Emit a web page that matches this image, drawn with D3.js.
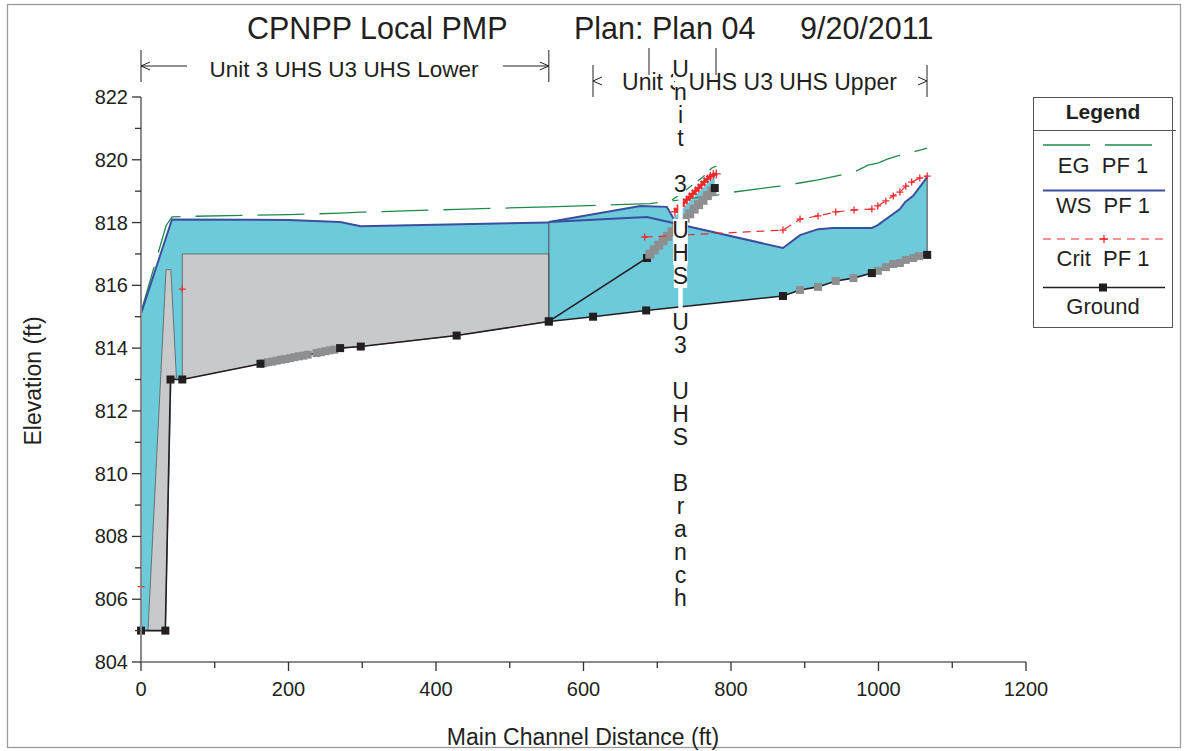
<!DOCTYPE html>
<html><head><meta charset="utf-8">
<script src="https://cdn.jsdelivr.net/npm/d3@7"></script>
<style>
body{margin:0;background:#fff}
svg{display:block}
text{font-family:"Liberation Sans",Arial,sans-serif;fill:#231f20}
</style>
</head><body>
<svg id="c" width="1186" height="751"></svg>
<script>
// ---------------- data ----------------
const titleParts = ["CPNPP Local PMP", "Plan: Plan 04", "9/20/2011"];
const xLabel = "Main Channel Distance (ft)";
const yLabel = "Elevation (ft)";
const xTicks = [0, 200, 400, 600, 800, 1000, 1200];
const xMinor = [100, 300, 500, 700, 900, 1100];
const yTicks = [804, 806, 808, 810, 812, 814, 816, 818, 820, 822];
const yMinor = [805, 807, 809, 811, 813, 815, 817, 819, 821];
const reachLower = "Unit 3 UHS U3 UHS Lower";
const reachUpper = "Unit 3 UHS U3 UHS Upper";
const reachBranch = "Unit 3 UHS U3 UHS Branch";
const legendNames = ["EG  PF 1", "WS  PF 1", "Crit  PF 1", "Ground"];

// Lower reach
const lowerGroundX = [0, 33, 40, 56, 162, 270, 298, 428, 553];
const lowerGroundY = [805.0, 805.0, 813.0, 813.0, 813.5, 814.0, 814.05, 814.4, 814.85];
const lowerInterpX = [166, 172, 178, 184, 190, 196, 202, 208, 214, 220, 226, 238, 244, 250, 256, 262];
const lowerInterpY = [813.52, 813.55, 813.57, 813.6, 813.63, 813.65, 813.68, 813.71, 813.74, 813.76, 813.79, 813.84, 813.87, 813.9, 813.93, 813.95];
const lowerWsX = [0, 42, 200, 270, 298, 553];
const lowerWsY = [815.1, 818.1, 818.08, 818.02, 817.88, 818.0];
const lowerEgX = [0, 34, 42, 70, 200, 270, 298, 428, 553];
const lowerEgY = [815.15, 817.9, 818.18, 818.2, 818.25, 818.3, 818.33, 818.42, 818.5];
const lowerCritX = [0, 56];
const lowerCritY = [806.4, 815.88];
const pierX = [9.5, 34, 40.5, 48, 40.7, 33];
const pierY = [805, 816.5, 816.5, 813.05, 813, 805];
const deckX = [56, 553];
const deckTop = 817.0;

// Upper reach
const upperGroundX = [553, 613, 685, 870.5, 991, 1066];
const upperGroundY = [814.85, 815.0, 815.2, 815.66, 816.39, 816.97];
const upperInterpX = [893.6, 918, 942, 966, 999, 1010, 1020, 1029, 1037, 1047, 1055];
const upperInterpY = [815.85, 815.95, 816.14, 816.23, 816.46, 816.58, 816.68, 816.71, 816.81, 816.87, 816.93];
const upperWsX = [553, 686, 870.5, 893.6, 918, 938, 991, 999, 1029, 1036, 1047, 1066];
const upperWsY = [818.02, 818.18, 817.19, 817.6, 817.79, 817.83, 817.83, 817.92, 818.43, 818.65, 818.85, 819.45];
const upperEgX = [553, 690, 782, 803, 866, 893, 918, 942, 966, 986, 1000, 1012, 1025, 1047, 1066];
const upperEgY = [818.5, 818.6, 818.88, 818.97, 819.16, 819.26, 819.36, 819.48, 819.6, 819.83, 819.9, 820.02, 820.12, 820.25, 820.37];
const upperCritX = [683, 870.5, 893.6, 918, 942, 966.8, 991, 999, 1010, 1020, 1029, 1037, 1045, 1056, 1066];
const upperCritY = [817.54, 817.76, 818.11, 818.21, 818.34, 818.4, 818.43, 818.53, 818.69, 818.85, 818.97, 819.16, 819.29, 819.42, 819.48];

// Branch (junction region)
const junctionTopX = [553, 677, 713, 722];
const junctionTopY = [818.02, 818.53, 818.5, 818.13];
const branchGroundX = [553, 686, 778];
const branchGroundY = [814.85, 816.87, 819.1];
const branchInterpX = [690, 696, 702, 708, 714, 720, 726, 732, 738, 744, 750, 756, 762, 768, 774];
const branchInterpY = [816.99, 817.13, 817.28, 817.42, 817.56, 817.71, 817.85, 817.99, 818.14, 818.28, 818.43, 818.57, 818.71, 818.86, 819.0];
const branchWsX = [722, 732, 744, 756, 768, 778];
const branchWsY = [818.13, 818.36, 818.65, 818.94, 819.23, 819.45];
const branchCritX = [724, 728, 732, 736, 740, 744, 748, 752, 756, 760, 764, 768, 772, 776, 780];
const branchCritY = [818.34, 818.44, 818.53, 818.63, 818.72, 818.82, 818.91, 819.01, 819.1, 819.2, 819.3, 819.39, 819.47, 819.52, 819.55];
const branchEgX = [720, 734, 748, 762, 774, 780];
const branchEgY = [818.72, 818.95, 819.2, 819.45, 819.74, 819.8];

// ---------------- styles ----------------
const C = {cyan:"#6dcadb", gray:"#c8c9cb", grayEdge:"#5a5a5a", sq:"#8e8f91", blue:"#3a4f9f",
           green:"#1f8a4c", red:"#ee2a2f", black:"#231f20", axis:"#8a8a8a"};

const svg = d3.select("#c");
const x = d3.scaleLinear().domain([0, 1200]).range([141, 1026]);
const y = d3.scaleLinear().domain([804, 822]).range([662, 97]);
const pts = (X, Y) => X.map((v, i) => [v, Y[i]]);
const line = d3.line().x(d => x(d[0])).y(d => y(d[1]));
const sortPts = a => a.slice().sort((p, q) => p[0] - q[0]);

function bandPath(top, bot) {
  const x0 = top[0][0], x1 = top[top.length - 1][0];
  const f = d3.scaleLinear().domain(bot.map(d => d[0])).range(bot.map(d => d[1]));
  const inner = bot.filter(d => d[0] > x0 && d[0] < x1);
  const b = [[x0, f(x0)], ...inner, [x1, f(x1)]].reverse();
  return line([...top, ...b]) + "Z";
}

// frame
svg.append("rect").attr("x", 7.5).attr("y", 4.5).attr("width", 1173).attr("height", 743)
  .attr("fill", "none").attr("stroke", "#9a9a9a").attr("stroke-width", 1.3);

const lowerGroundAll = sortPts([...pts(lowerGroundX, lowerGroundY), ...pts(lowerInterpX, lowerInterpY)]);
const upperGroundAll = sortPts([...pts(upperGroundX, upperGroundY), ...pts(upperInterpX, upperInterpY)]);
const branchGroundAll = sortPts([...pts(branchGroundX, branchGroundY), ...pts(branchInterpX, branchInterpY)]);

const g = svg.append("g");
// water fills
g.append("path").attr("d", bandPath(pts(lowerWsX, lowerWsY), lowerGroundAll)).attr("fill", C.cyan);
g.append("path").attr("d", bandPath(pts(upperWsX, upperWsY), upperGroundAll)).attr("fill", C.cyan);
g.append("path").attr("d", bandPath(pts(junctionTopX, junctionTopY), upperGroundAll)).attr("fill", C.cyan);
g.append("path").attr("d", bandPath(pts(branchWsX, branchWsY), branchGroundAll)).attr("fill", C.cyan);

// structures
g.append("path").attr("d", line(pts(pierX, pierY)) + "Z").attr("fill", C.gray)
  .attr("stroke", C.grayEdge).attr("stroke-width", 0.8);
g.append("path").attr("d", bandPath([[deckX[0], deckTop], [deckX[1], deckTop]], lowerGroundAll))
  .attr("fill", C.gray).attr("stroke", C.grayEdge).attr("stroke-width", 0.8);

// reach end lines
const wsLowF = d3.scaleLinear().domain(lowerWsX).range(lowerWsY);
[[lowerGroundX[lowerGroundX.length - 1], lowerGroundY[lowerGroundY.length - 1], wsLowF(553)],
 [upperGroundX[upperGroundX.length - 1], upperGroundY[upperGroundY.length - 1], upperWsY[upperWsY.length - 1]]]
  .forEach(d => g.append("line").attr("x1", x(d[0])).attr("x2", x(d[0])).attr("y1", y(d[1])).attr("y2", y(d[2]))
    .attr("stroke", "#4a4a4a").attr("stroke-width", 1));

function drawLine(P, col, w, dash) {
  const p = g.append("path").attr("d", line(P)).attr("fill", "none").attr("stroke", col).attr("stroke-width", w);
  if (dash) p.attr("stroke-dasharray", dash);
  return p;
}
// EG lines
drawLine(pts(lowerEgX, lowerEgY), C.green, 1.3, "47,15");
drawLine(pts(upperEgX, upperEgY), C.green, 1.3, "47,15");

// ground lines
drawLine(lowerGroundAll, C.black, 1.6);
drawLine(upperGroundAll, C.black, 1.6);
drawLine(branchGroundAll, C.black, 1.6);

function squares(P, col, s) {
  g.append("g").selectAll("rect").data(P).join("rect")
    .attr("x", d => x(d[0]) - s / 2).attr("y", d => y(d[1]) - s / 2)
    .attr("width", s).attr("height", s).attr("fill", col);
}
squares([[branchGroundX[1], branchGroundY[1]]], C.black, 8);
squares(pts(lowerInterpX, lowerInterpY), C.sq, 8);
squares(pts(upperInterpX, upperInterpY), C.sq, 8);
squares(pts(branchInterpX, branchInterpY), C.sq, 9);

// branch lines
drawLine(pts(branchWsX, branchWsY), C.cyan, 1);
drawLine(pts(branchEgX, branchEgY), C.green, 1.3, "9,7");

// WS lines
drawLine(pts(lowerWsX, lowerWsY), C.blue, 2);
drawLine(pts(upperWsX, upperWsY), C.blue, 2);
drawLine(pts(junctionTopX, junctionTopY), C.blue, 2);

// Crit
function plus(P, s) {
  g.append("g").selectAll("path").data(P).join("path")
    .attr("d", d => `M${x(d[0]) - s},${y(d[1])}h${2 * s}M${x(d[0])},${y(d[1]) - s}v${2 * s}`)
    .attr("stroke", C.red).attr("stroke-width", 1.3).attr("fill", "none");
}
drawLine(pts(upperCritX, upperCritY), C.red, 1.2, "8,6");
plus(pts(upperCritX, upperCritY), 3.5);
plus(pts(lowerCritX, lowerCritY), 3.5);
drawLine(pts(branchCritX, branchCritY), C.red, 3.5);
plus(pts(branchCritX, branchCritY), 4.5);

// black ground squares
squares(pts(lowerGroundX, lowerGroundY), C.black, 8);
squares(pts(upperGroundX, upperGroundY), C.black, 8);
squares([[branchGroundX[2], branchGroundY[2]]], C.black, 8);

// ---------------- axes ----------------
const ax = svg.append("g");
ax.append("line").attr("x1", 141).attr("x2", 141).attr("y1", y(822)).attr("y2", y(804) + 1)
  .attr("stroke", C.axis).attr("stroke-width", 2);
ax.append("line").attr("x1", 140).attr("x2", x(1200)).attr("y1", 662).attr("y2", 662)
  .attr("stroke", C.axis).attr("stroke-width", 2);
yTicks.forEach(v => ax.append("line").attr("x1", 132).attr("x2", 141).attr("y1", y(v)).attr("y2", y(v))
  .attr("stroke", "#333").attr("stroke-width", 1.3));
yMinor.forEach(v => ax.append("line").attr("x1", 135).attr("x2", 141).attr("y1", y(v)).attr("y2", y(v))
  .attr("stroke", "#333").attr("stroke-width", 1.3));
yTicks.forEach(v => ax.append("text").attr("x", 128).attr("y", y(v) + 7).attr("text-anchor", "end")
  .attr("font-size", 20).text(v));
xTicks.forEach(v => ax.append("line").attr("x1", x(v)).attr("x2", x(v)).attr("y1", 662).attr("y2", 671)
  .attr("stroke", "#333").attr("stroke-width", 1.3));
xMinor.forEach(v => ax.append("line").attr("x1", x(v)).attr("x2", x(v)).attr("y1", 662).attr("y2", 668)
  .attr("stroke", "#333").attr("stroke-width", 1.3));
xTicks.forEach(v => ax.append("text").attr("x", x(v)).attr("y", 696).attr("text-anchor", "middle")
  .attr("font-size", 20).text(v));
ax.append("text").attr("x", 583).attr("y", 745).attr("text-anchor", "middle").attr("font-size", 23).text(xLabel);
ax.append("text").attr("transform", "translate(41,381) rotate(-90)").attr("text-anchor", "middle")
  .attr("font-size", 23).text(yLabel);

// ---------------- title ----------------
[[247, titleParts[0]], [574, titleParts[1]], [800, titleParts[2]]].forEach(d =>
  svg.append("text").attr("x", d[0]).attr("y", 39).attr("font-size", 30.5).text(d[1]));

// ---------------- reach labels ----------------
const rl = svg.append("g").attr("stroke", "#231f20").attr("stroke-width", 1).attr("fill", "none");
function bar(px, y1, y2) { rl.append("line").attr("x1", px).attr("x2", px).attr("y1", y1).attr("y2", y2); }
function headL(px, py) { rl.append("path").attr("d", `M${px + 9},${py - 4}L${px},${py}L${px + 9},${py + 4}`); }
function headR(px, py) { rl.append("path").attr("d", `M${px - 9},${py - 4}L${px},${py}L${px - 9},${py + 4}`); }
// lower
bar(x(0), 50, 82); bar(x(553), 50, 82);
rl.append("line").attr("x1", x(0)).attr("x2", 187).attr("y1", 66).attr("y2", 66);
rl.append("line").attr("x1", 503).attr("x2", x(553)).attr("y1", 66).attr("y2", 66);
headL(x(0), 66); headR(x(553), 66);
svg.append("text").attr("x", 344).attr("y", 77).attr("text-anchor", "middle").attr("font-size", 22.5).text(reachLower);
// upper
bar(593, 65, 97); bar(927, 65, 97);
headL(593, 81); headR(927, 81);
svg.append("text").attr("x", 759.5).attr("y", 90).attr("text-anchor", "middle").attr("font-size", 23).text(reachUpper);
// branch
bar(649, 48, 75); bar(716, 48, 75);
// vertical branch label, char by char with white boxes
const vb = svg.append("g");
reachBranch.split("").forEach((ch, i) => {
  const by = 77 + 23 * i;
  const t = vb.append("text").attr("x", 680.5).attr("y", by).attr("text-anchor", "middle")
    .attr("font-size", 23).style("white-space", "pre").text(ch);
  let w = t.node().getComputedTextLength() - 2;
  if (w < 4) w = 5;
  vb.insert("rect", "text").attr("x", 680.5 - w / 2).attr("y", by - 19).attr("width", w).attr("height", 23)
    .attr("fill", "#fff");
});

// ---------------- legend ----------------
const L = svg.append("g");
L.append("rect").attr("x", 1033.5).attr("y", 97.5).attr("width", 139).attr("height", 230)
  .attr("fill", "#fff").attr("stroke", "#555").attr("stroke-width", 1);
L.append("line").attr("x1", 1033).attr("x2", 1176).attr("y1", 130.5).attr("y2", 130.5).attr("stroke", "#555");
L.append("text").attr("x", 1103).attr("y", 119).attr("text-anchor", "middle").attr("font-size", 21)
  .attr("font-weight", "bold").text("Legend");
const ly = [145, 190.5, 239, 287.5], ty = [173, 213, 266, 314];
const lstyle = [[C.green, 1.3, "47,15"], [C.blue, 2, null], [C.red, 1.2, "8,6"], [C.black, 1.6, null]];
lstyle.forEach((s, i) => {
  const l = L.append("line").attr("x1", 1043).attr("x2", 1165).attr("y1", ly[i]).attr("y2", ly[i])
    .attr("stroke", s[0]).attr("stroke-width", s[1]);
  if (s[2]) l.attr("stroke-dasharray", s[2]);
  L.append("text").attr("x", 1103).attr("y", ty[i]).attr("text-anchor", "middle").attr("font-size", 22)
    .style("white-space", "pre").text(legendNames[i]);
});
L.append("path").attr("d", `M1100,${ly[2]}h8M1104,${ly[2] - 4}v8`).attr("stroke", C.red).attr("stroke-width", 1.3);
L.append("rect").attr("x", 1099).attr("y", ly[3] - 4).attr("width", 8).attr("height", 8).attr("fill", C.black);
</script>
</body></html>
